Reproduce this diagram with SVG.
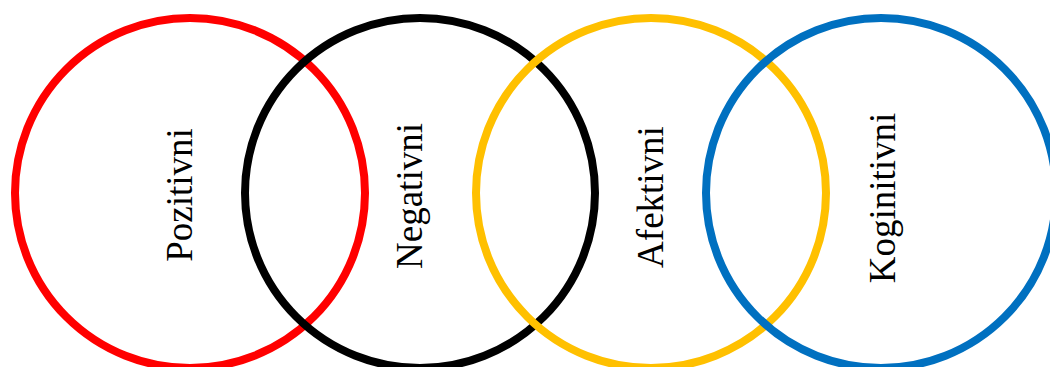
<svg xmlns="http://www.w3.org/2000/svg" width="1050" height="367" viewBox="0 0 1050 367">
<style>
.ring{fill:none;stroke-width:8}
.lbl{font-family:"Liberation Serif","Times New Roman",serif;font-size:37px;fill:#000;text-anchor:middle}
</style>
<rect width="1050" height="367" fill="#fff"/>
<g id="pozitivni">
<circle class="ring" cx="190" cy="193" r="175" stroke="#FF0000"/>
<text class="lbl" transform="translate(192,195) rotate(-90)">Pozitivni</text>
</g>
<g id="negativni">
<circle class="ring" cx="420" cy="193" r="175" stroke="#000000"/>
<text class="lbl" transform="translate(422,196) rotate(-90)">Negativni</text>
</g>
<g id="afektivni">
<circle class="ring" cx="651" cy="193" r="175" stroke="#FFC000"/>
<text class="lbl" transform="translate(663,197) rotate(-90)">Afektivni</text>
</g>
<g id="koginitivni">
<circle class="ring" cx="881" cy="193" r="175" stroke="#0070C0"/>
<text class="lbl" transform="translate(895,198) rotate(-90)">Koginitivni</text>
</g>
<g id="connectors"></g>
</svg>
